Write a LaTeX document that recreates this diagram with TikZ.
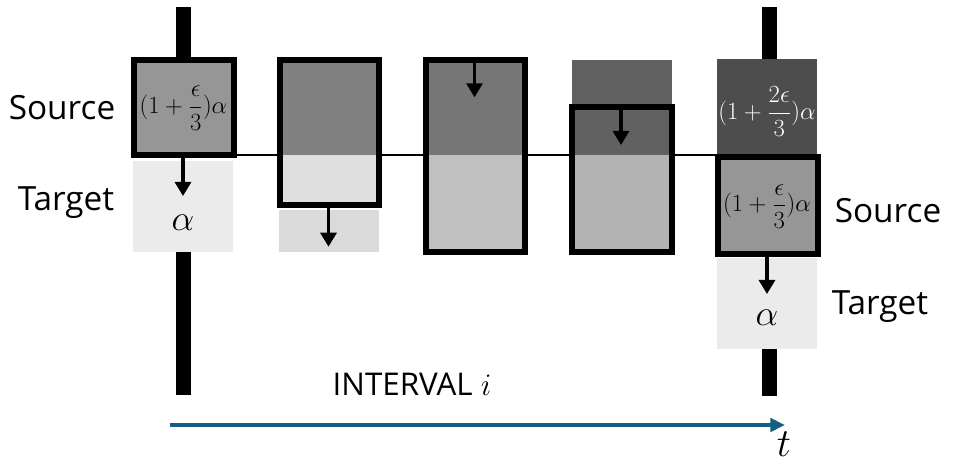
\documentclass[tikz,border=0pt]{standalone}
\usepackage{fix-cm}
\usepackage{amsmath}
\usepackage{fontspec}
\setmainfont{Open Sans}
\usetikzlibrary{arrows.meta}
\definecolor{accentblue}{HTML}{156082}
\definecolor{gA}{HTML}{969696}
\definecolor{gT}{HTML}{EBEBEB}
\definecolor{gBtop}{HTML}{808080}
\definecolor{gBbot}{HTML}{DEDEDE}
\definecolor{gBtgt}{HTML}{DADADA}
\definecolor{gCtop}{HTML}{767676}
\definecolor{gCbot}{HTML}{C0C0C0}
\definecolor{gDtop}{HTML}{616161}
\definecolor{gDbot}{HTML}{B3B3B3}
\definecolor{gEtop}{HTML}{4D4D4D}
\begin{document}
\begin{tikzpicture}[x=0.75pt,y=-0.75pt,
  boxline/.style={line width=4.5pt,draw=black},
  barline/.style={line width=11.6pt,draw=black},
  flowarrow/.style={line width=2.3pt,-{Triangle[width=12pt,length=10.5pt]}},
  label/.style={font=\fontsize{25}{30}\selectfont,inner sep=0pt},
  mathlbl/.style={font=\fontsize{18.5}{22}\selectfont,inner sep=0pt},
  alphalbl/.style={font=\fontsize{27}{30}\selectfont,inner sep=0pt}]
\useasboundingbox (0,0) rectangle (964,470);
% time axis line behind boxes
\draw[line width=1.5pt] (233,155.5) -- (717.5,155.5);
% vertical bars
\draw[barline] (183.5,7) -- (183.5,58);
\draw[barline] (183.5,252) -- (183.5,395);
\draw[barline] (769.5,7) -- (769.5,60);
\draw[barline] (769.5,349) -- (769.5,396);
% box 1
\fill[gA] (133.5,60.5) rectangle (233.5,155.5);
\fill[gT] (133,160.7) rectangle (233,251.7);
\draw[boxline] (133.5,60.5) rectangle (233.5,155.5);
\node[mathlbl] (s1) at (183.5,108) {$(1+\dfrac{\epsilon}{3})\alpha$};
\node[alphalbl] (t1) at (183,223) {$\alpha$};
\coordinate (a1s) at (183,158);
\coordinate (a1e) at (183,196);
\draw[flowarrow] (a1s) -- (a1e);
% box 2
\fill[gBtop] (279.5,60.5) rectangle (379,155.5);
\fill[gBbot] (279.5,155.5) rectangle (379,205.3);
\fill[gBtgt] (279,210) rectangle (378.7,251.7);
\draw[boxline] (279.5,60.5) rectangle (379,205.3);
\coordinate (a2s) at (328.5,207.5);
\coordinate (a2e) at (328.5,246.7);
\draw[flowarrow] (a2s) -- (a2e);
% box 3
\fill[gCtop] (425.5,60.5) rectangle (525,155.5);
\fill[gCbot] (425.5,155.5) rectangle (525,252);
\draw[boxline] (425.5,60.5) rectangle (525,252);
\coordinate (a3s) at (474.5,62);
\coordinate (a3e) at (474.5,97.3);
\draw[flowarrow] (a3s) -- (a3e);
% box 4
\fill[gDtop] (572.3,60) rectangle (671.7,107);
\fill[gDtop] (572,107) rectangle (672,155.5);
\fill[gDbot] (572,155.5) rectangle (672,252);
\draw[boxline] (572,107) rectangle (672,252);
\coordinate (a4s) at (621,109);
\coordinate (a4e) at (621,145);
\draw[flowarrow] (a4s) -- (a4e);
% box 5
\fill[gEtop] (717.3,59) rectangle (817.3,154);
\fill[gA] (717.7,157) rectangle (817.7,253.7);
\fill[gT] (717.3,258.3) rectangle (817.3,349.3);
\draw[boxline] (717.7,157) rectangle (817.7,253.7);
\node[mathlbl,text=white] (s5top) at (767,111.7) {$(1+\dfrac{2\epsilon}{3})\alpha$};
\node[mathlbl] (s5) at (767,206.7) {$(1+\dfrac{\epsilon}{3})\alpha$};
\node[alphalbl] (t5) at (767,318) {$\alpha$};
\coordinate (a5s) at (767,256);
\coordinate (a5e) at (767,294);
\draw[flowarrow] (a5s) -- (a5e);
% labels
\node[label] (srcL) at (62,108) {Source};
\node[label] (tgtL) at (66,203) {Target};
\node[label] (srcR) at (888,211) {Source};
\node[label] (tgtR) at (880,307) {Target};
\node[font=\fontsize{23.5}{28}\selectfont,inner sep=0pt] (intv) at (412,384) {INTERVAL $i$};
% time arrow
\coordinate (tstart) at (170,425);
\coordinate (tend) at (785,425);
\draw[accentblue,line width=3pt,-{Triangle[width=10pt,length=11pt]}] (tstart) -- (tend);
\node[font=\fontsize{30}{32}\selectfont,inner sep=0pt] (tlbl) at (784,444) {$t$};
\end{tikzpicture}
\end{document}
